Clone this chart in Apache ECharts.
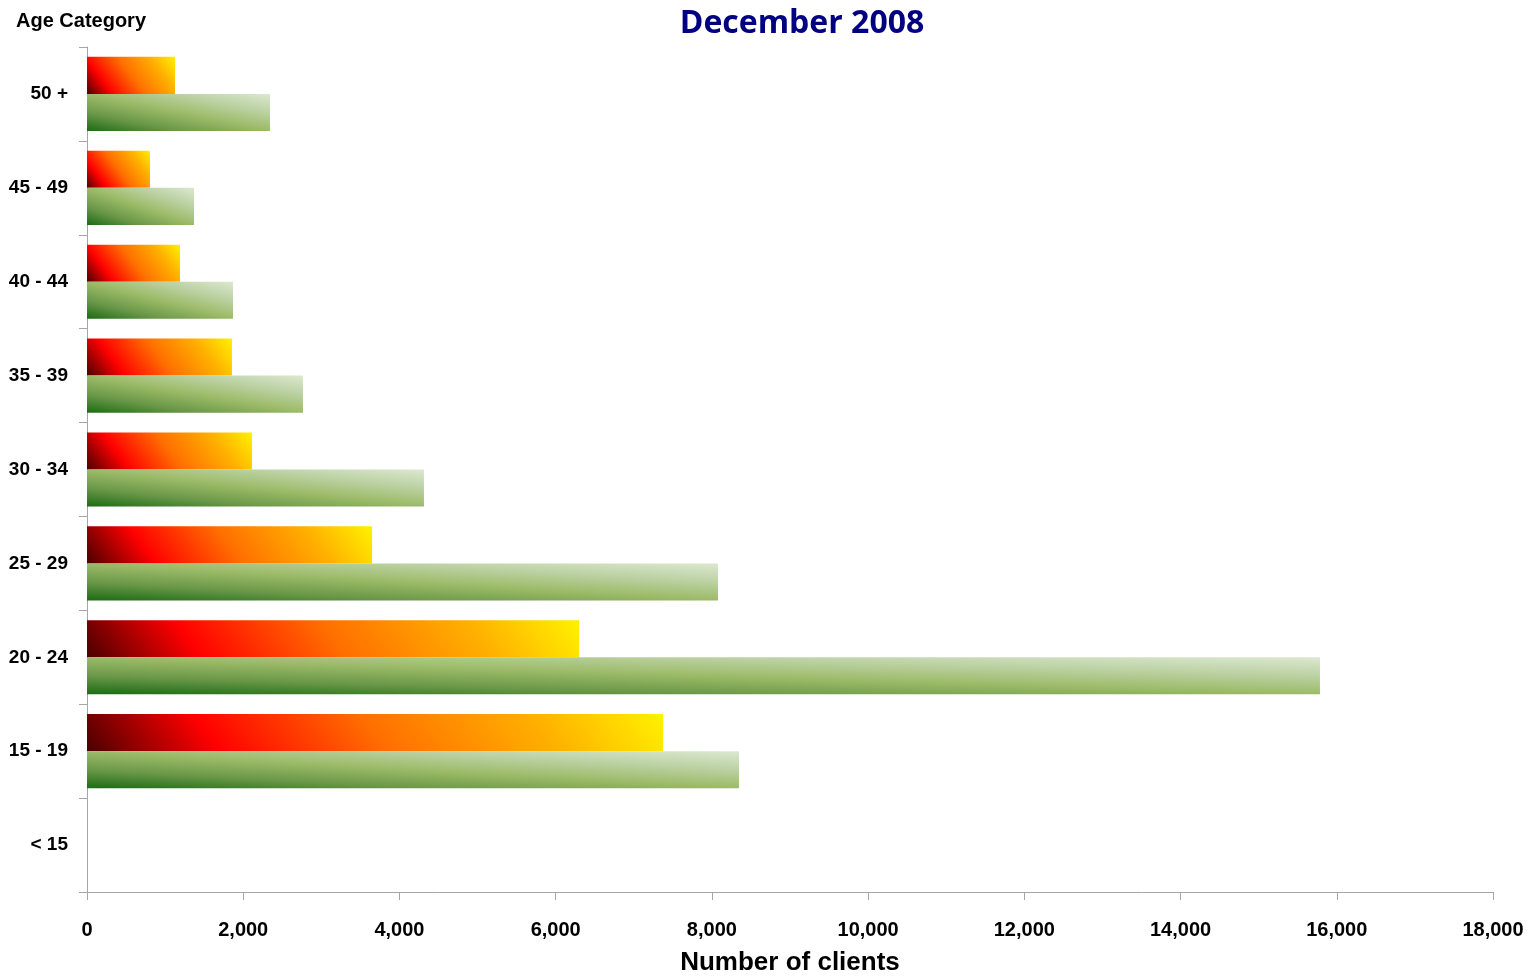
<!DOCTYPE html>
<html>
<head>
<meta charset="utf-8">
<script src="https://cdn.jsdelivr.net/npm/echarts@6/dist/echarts.min.js"></script>
<style>
  html, body { margin: 0; padding: 0; background: #fff; }
  #AgeChart { width: 1531px; height: 979px; }
</style>
</head>
<body>
<div id="AgeChart"></div>
<script>
// age bands, bottom to top
const categories = ['< 15', '15 - 19', '20 - 24', '25 - 29', '30 - 34', '35 - 39', '40 - 44', '45 - 49', '50 +'];
// red/yellow bars (upper bar of each pair)
const redValues = [0, 7374, 6299, 3649, 2112, 1856, 1191, 807, 1127];
// green bars (lower bar of each pair)
const greenValues = [0, 8347, 15785, 8078, 4314, 2765, 1869, 1370, 2343];
const xTicks = { min: 0, max: 18000, interval: 2000 };

const sans = "'Liberation Sans', Arial, sans-serif";
const gridW = 1406;
const barH = 37;

const barWidthPx = (v) => Math.max(v / xTicks.max * gridW, 1);

// fire gradient bottom-left -> top-right, fixed slant in pixels
const fireColor = (p) => {
  let w = barWidthPx(p.value);
  let dx = 1, dy = -0.75;
  let len = w * dx - barH * dy;
  let k = len / (dx * dx + dy * dy);
  return new echarts.graphic.LinearGradient(0, 1, (k * dx) / w, 1 + (k * dy) / barH, [
    { offset: 0, color: '#4a0000' },
    { offset: 0.22, color: '#ff0000' },
    { offset: 0.5, color: '#ff6f00' },
    { offset: 0.78, color: '#ffb000' },
    { offset: 1, color: '#fff200' }
  ]);
};

// green gradient stretched with the shape (isolines along the TL-BR diagonal)
const greenColor = (p) => {
  let w = barWidthPx(p.value);
  let t = 2 / (1 / (w * w) + 1 / (barH * barH));
  return new echarts.graphic.LinearGradient(0, 1, t / (w * w), 1 - t / (barH * barH), [
    { offset: 0, color: '#1c6b14' },
    { offset: 0.25, color: '#6a9848' },
    { offset: 0.5, color: '#9cbb68' },
    { offset: 0.75, color: '#bcd2a4' },
    { offset: 1, color: '#dce8d0' }
  ]);
};

const chart = echarts.init(document.getElementById('AgeChart'));

let option = {
  animation: false,
  title: {
    text: 'December 2008',
    left: 797,
    top: 3,
    textAlign: 'center',
    textStyle: {
      color: '#000080',
      fontFamily: "'Open Sans', sans-serif",
      fontWeight: 'bold',
      fontSize: 32
    }
  },
  grid: {
    left: 87,
    right: 38,
    top: 47,
    bottom: 87,
    containLabel: false,
    outerBoundsMode: 'none'
  },
  xAxis: {
    type: 'value',
    min: xTicks.min,
    max: xTicks.max,
    interval: xTicks.interval,
    name: 'Number of clients',
    nameLocation: 'middle',
    nameGap: 58,
    nameTextStyle: {
      fontFamily: sans,
      fontWeight: 'bold',
      fontSize: 26,
      color: '#000'
    },
    splitLine: { show: false },
    axisLine: { show: true, lineStyle: { color: '#a6a6a6', width: 1 } },
    axisTick: { show: true, length: 8, lineStyle: { color: '#a6a6a6' } },
    axisLabel: {
      margin: 28,
      fontFamily: sans,
      fontWeight: 'bold',
      fontSize: 20,
      color: '#000',
      formatter: (v) => v.toLocaleString('en-US')
    }
  },
  yAxis: {
    type: 'category',
    data: categories,
    name: 'Age Category',
    nameLocation: 'end',
    nameGap: 16,
    nameTextStyle: {
      fontFamily: sans,
      fontWeight: 'bold',
      fontSize: 20,
      color: '#000',
      align: 'left',
      padding: [0, 0, 0, -71]
    },
    axisLine: { show: true, lineStyle: { color: '#a6a6a6', width: 1 } },
    axisTick: { show: true, length: 8, lineStyle: { color: '#a6a6a6' } },
    axisLabel: {
      margin: 19,
      fontFamily: sans,
      fontWeight: 'bold',
      fontSize: 19,
      color: '#000'
    }
  },
  series: [
    {
      name: 'Series 1',
      type: 'bar',
      data: redValues,
      barGap: '0%',
      barCategoryGap: '21%',
      itemStyle: { color: fireColor }
    },
    {
      name: 'Series 2',
      type: 'bar',
      data: greenValues,
      barGap: '0%',
      barCategoryGap: '21%',
      itemStyle: { color: greenColor }
    }
  ]
};

chart.setOption(option);
</script>
</body>
</html>
